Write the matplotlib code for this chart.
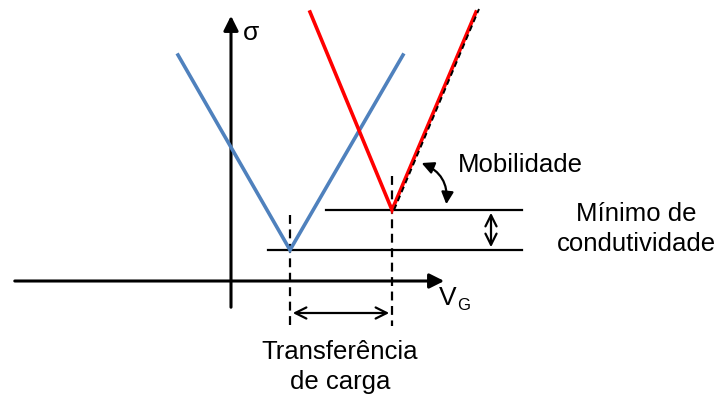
import matplotlib.pyplot as plt
from matplotlib.patches import FancyArrowPatch

plt.rcParams['font.family'] = ['Liberation Sans', 'DejaVu Sans']

# curvas de condutividade (x, y em pixels da figura, y para baixo)
blue_x = [178, 290, 403]
blue_y = [55, 250, 55]
red_x = [310, 392, 476]
red_y = [12, 210, 12]

# eixos
eixo_x = [12, 447]
eixo_y_pos = 281
eixo_v = [310, 13]
eixo_v_pos = 231

# linhas de mínimo
min_azul = 250
min_vermelho = 210

fig = plt.figure(figsize=(7.19, 3.96), dpi=100)
ax = fig.add_axes([0, 0, 1, 1])
ax.set_xlim(0, 719)
ax.set_ylim(396, 0)
ax.axis('off')

seta = dict(arrowstyle='-|>', mutation_scale=22, color='black', lw=2.2)
ax.add_patch(FancyArrowPatch((eixo_x[0], eixo_y_pos), (eixo_x[1], eixo_y_pos), **seta))
ax.add_patch(FancyArrowPatch((eixo_v_pos, eixo_v[0]), (eixo_v_pos, eixo_v[1]), **seta))

ax.text(243, 33, 'σ', fontsize=19, va='center', ha='left')
ax.text(439, 298, 'V', fontsize=19, va='center', ha='left')
ax.text(457, 306, 'G', fontsize=12, va='center', ha='left')

# linhas horizontais dos mínimos
ax.plot([268, 522], [min_azul, min_azul], color='black', lw=1.6)
ax.plot([326, 522], [min_vermelho, min_vermelho], color='black', lw=1.6)

# linhas tracejadas verticais
ax.plot([blue_x[1], blue_x[1]], [215, 326], color='black', lw=1.6, ls=(0, (4, 2.5)))
ax.plot([red_x[1], red_x[1]], [176, 326], color='black', lw=1.6, ls=(0, (4, 2.5)))

ax.plot(blue_x, blue_y, color='#4f81bd', lw=2.6, solid_joinstyle='miter')
ax.plot(red_x, red_y, color='#ff0000', lw=2.6, solid_joinstyle='miter')
# tangente tracejada no ramo direito
ax.plot([red_x[1] + 2, 479], [min_vermelho, 9], color='black', lw=1.4, ls=(0, (3, 2)))

dupla = dict(arrowstyle='<->', mutation_scale=20, color='black', lw=1.6)
ax.add_patch(FancyArrowPatch((491, min_vermelho), (491, min_azul), **dupla))
ax.add_patch(FancyArrowPatch((blue_x[1], 313), (red_x[1], 313), **dupla))

# arco da mobilidade
ax.add_patch(FancyArrowPatch((419, 162), (446, 207), connectionstyle='arc3,rad=-0.4',
                             arrowstyle='<|-|>', mutation_scale=18, color='black', lw=1.6))

ax.text(458, 165, 'Mobilidade', fontsize=18.5, va='center', ha='left')
ax.text(636, 229, 'Mínimo de\ncondutividade', fontsize=18.5, va='center', ha='center',
        linespacing=1.3)
ax.text(340, 367, 'Transferência\nde carga', fontsize=18.5, va='center', ha='center',
        linespacing=1.3)

fig.savefig('out.png', dpi=100)
